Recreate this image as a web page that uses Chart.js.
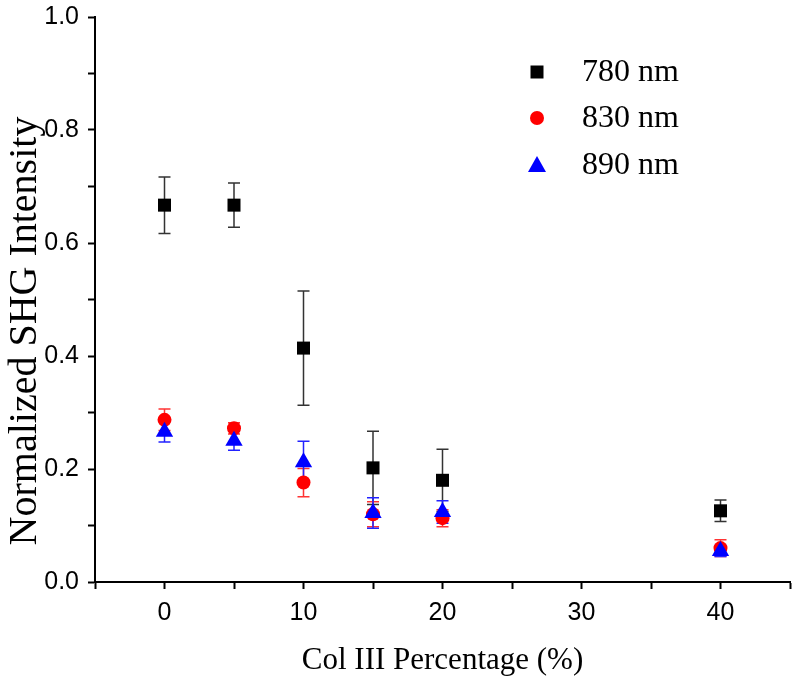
<!DOCTYPE html>
<html>
<head>
<meta charset="utf-8">
<script src="https://cdn.jsdelivr.net/npm/chart.js@4.4.0/dist/chart.umd.min.js"></script>
<style>
  html, body { margin: 0; padding: 0; background: #fff; }
  #wrap { width: 800px; height: 685px; }
</style>
</head>
<body>
<div id="wrap"><canvas id="shgChart" width="800" height="685"></canvas></div>
<script>
// Col III yüzdeleri (x ekseni)
const colPercent = [0, 5, 10, 15, 20, 40];

// Normalize SHG yoğunlukları ve hata çubukları
const shg780 = [0.667, 0.667, 0.414, 0.202, 0.180, 0.126];
const err780 = [0.050, 0.039, 0.101, 0.065, 0.055, 0.019];
const shg830 = [0.287, 0.272, 0.176, 0.120, 0.113, 0.060];
const err830 = [0.019, 0.010, 0.025, 0.022, 0.015, 0.015];
const shg890 = [0.266, 0.250, 0.212, 0.122, 0.124, 0.055];
const err890 = [0.018, 0.017, 0.037, 0.027, 0.020, 0.010];

const seriesLabels = ['780 nm', '830 nm', '890 nm'];

function toPoints(ys) {
    return colPercent.map((x, i) => ({ x: x, y: ys[i] }));
}

// hata çubuklarını ölçekler üzerinden çiz
const errorBarPlugin = {
    id: 'errorBars',
    beforeDatasetsDraw(chart) {
        const ctx = chart.ctx;
        const xs = chart.scales.x;
        const ys = chart.scales.y;
        chart.data.datasets.forEach(ds => {
            ctx.save();
            ctx.strokeStyle = ds.errColor;
            ctx.lineWidth = 1.5;
            ds.data.forEach((p, i) => {
                const px = xs.getPixelForValue(p.x);
                const top = ys.getPixelForValue(p.y + ds.errors[i]);
                const bot = ys.getPixelForValue(p.y - ds.errors[i]);
                ctx.beginPath();
                ctx.moveTo(px, top); ctx.lineTo(px, bot);
                ctx.moveTo(px - 6, top); ctx.lineTo(px + 6, top);
                ctx.moveTo(px - 6, bot); ctx.lineTo(px + 6, bot);
                ctx.stroke();
            });
            ctx.restore();
        });
    }
};

// grafiğin içindeki lejant + y ekseni başlığı
const insideLegendPlugin = {
    id: 'insideLegend',
    afterDraw(chart) {
        const ctx = chart.ctx;
        const rows = [72, 118, 165];
        const mx = 537;
        ctx.save();
        chart.data.datasets.forEach((ds, i) => {
            const y = rows[i];
            ctx.fillStyle = ds.backgroundColor;
            ctx.beginPath();
            if (ds.pointStyle === 'rect') {
                ctx.rect(mx - 6.5, y - 6.5, 13, 13);
            } else if (ds.pointStyle === 'circle') {
                ctx.arc(mx, y, 7, 0, Math.PI * 2);
            } else {
                ctx.moveTo(mx, y - 9);
                ctx.lineTo(mx + 9, y + 7);
                ctx.lineTo(mx - 9, y + 7);
                ctx.closePath();
            }
            ctx.fill();
            ctx.fillStyle = '#000';
            ctx.font = '32px "Liberation Serif", serif';
            ctx.textBaseline = 'middle';
            ctx.textAlign = 'left';
            ctx.fillText(ds.label, 582, y + 1);
        });

        // y ekseni başlığı (orijinalde biraz aşağıda duruyor)
        ctx.translate(25, 331);
        ctx.rotate(-Math.PI / 2);
        ctx.font = '40px "Liberation Serif", serif';
        ctx.textAlign = 'center';
        ctx.textBaseline = 'middle';
        ctx.fillStyle = '#000';
        ctx.fillText('Normalized SHG Intensity', 0, 0);
        ctx.restore();
    }
};

const ctx = document.getElementById('shgChart').getContext('2d');
new Chart(ctx, {
    type: 'scatter',
    data: {
        datasets: [
            {
                label: seriesLabels[0],
                data: toPoints(shg780),
                errors: err780,
                errColor: '#333333',
                pointStyle: 'rect',
                pointRadius: 9.2,
                backgroundColor: '#000000',
                borderColor: '#000000',
                borderWidth: 0,
                order: 0
            },
            {
                label: seriesLabels[1],
                data: toPoints(shg830),
                errors: err830,
                errColor: '#ff3333',
                pointStyle: 'circle',
                pointRadius: 7,
                backgroundColor: '#ff0000',
                borderColor: '#ff0000',
                borderWidth: 0,
                order: 2
            },
            {
                label: seriesLabels[2],
                data: toPoints(shg890),
                errors: err890,
                errColor: '#2222ff',
                pointStyle: 'triangle',
                pointRadius: 10,
                backgroundColor: '#0000ff',
                borderColor: '#0000ff',
                borderWidth: 0,
                order: 1
            }
        ]
    },
    options: {
        responsive: false,
        animation: false,
        layout: { padding: { top: 17, right: 9, left: 0, bottom: 0 } },
        plugins: {
            legend: { display: false },
            tooltip: { enabled: false }
        },
        scales: {
            x: {
                type: 'linear',
                min: -5,
                max: 45,
                afterFit: function (scale) {
                    scale.height = 103;
                    scale.paddingLeft = 0;
                    scale.paddingRight = 0;
                },
                border: { display: true, color: '#000', width: 2 },
                grid: { drawOnChartArea: false, tickLength: 7, tickColor: '#000', tickWidth: 2 },
                ticks: {
                    stepSize: 5,
                    padding: 9,
                    color: '#000',
                    font: { family: '"Liberation Sans", Arial, sans-serif', size: 25 },
                    callback: function (v) { return (v % 10 === 0 && v >= 0) ? String(v) : ''; }
                },
                title: {
                    display: true,
                    text: 'Col III Percentage (%)',
                    color: '#000',
                    font: { family: '"Liberation Serif", serif', size: 31 },
                    padding: { top: 0, bottom: 6 }
                }
            },
            y: {
                min: 0,
                max: 1,
                afterFit: function (scale) {
                    scale.width = 95;
                    scale.paddingTop = 0;
                    scale.paddingBottom = 0;
                },
                border: { display: true, color: '#000', width: 2 },
                grid: { drawOnChartArea: false, tickLength: 7, tickColor: '#000', tickWidth: 2 },
                ticks: {
                    stepSize: 0.1,
                    padding: 9,
                    color: '#000',
                    font: { family: '"Liberation Sans", Arial, sans-serif', size: 25 },
                    callback: function (v) {
                        const k = Math.round(v * 10);
                        return k % 2 === 0 ? (k / 10).toFixed(1) : '';
                    }
                },
                title: { display: false }
            }
        }
    },
    plugins: [errorBarPlugin, insideLegendPlugin]
});
</script>
</body>
</html>
